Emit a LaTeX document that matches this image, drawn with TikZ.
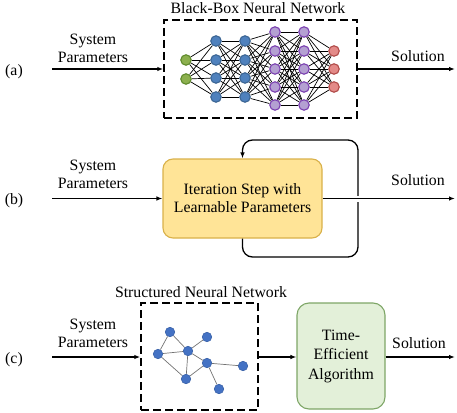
\documentclass[tikz,border=0pt]{standalone}
\usepackage{fontspec}
\setmainfont{Liberation Serif}
\usetikzlibrary{arrows.meta,backgrounds}
\definecolor{yfill}{HTML}{FFE497}
\definecolor{ydraw}{HTML}{D9B14A}
\definecolor{gfill}{HTML}{E3F0D9}
\definecolor{gdraw}{HTML}{7EA667}
\definecolor{nnGf}{HTML}{8CB04E}
\definecolor{nnGd}{HTML}{5F8A2C}
\definecolor{nnBf}{HTML}{4F81BD}
\definecolor{nnBd}{HTML}{3B6593}
\definecolor{nnPf}{HTML}{B4A0D2}
\definecolor{nnPd}{HTML}{7A3FB0}
\definecolor{nnRf}{HTML}{E38A88}
\definecolor{nnRd}{HTML}{B04A48}
\definecolor{gnf}{HTML}{4472C4}
\definecolor{gnd}{HTML}{3A62A8}
\begin{document}
\begin{tikzpicture}[x=1pt,y=-1pt,
  font=\fontsize{15.8}{18}\selectfont,
  arr/.style={line width=1.3pt,-{Latex[length=6pt,width=4.5pt]}},
  dbox/.style={draw,dash pattern=on 8pt off 4pt,line width=1.4pt,inner sep=0pt},
  lbl/.style={align=center,inner sep=0pt},
  nn/.style={circle,minimum size=10.5pt,inner sep=0pt,line width=1.1pt},
  nnG/.style={nn,fill=nnGf,draw=nnGd},
  nnB/.style={nn,fill=nnBf,draw=nnBd},
  nnP/.style={nn,fill=nnPf,draw=nnPd},
  nnR/.style={nn,fill=nnRf,draw=nnRd},
  nnedge/.style={line width=0.7pt,black},
  gnode/.style={circle,minimum size=9.5pt,inner sep=0pt,fill=gnf,draw=gnd,line width=0.6pt},
  gedge/.style={line width=0.7pt,black!55},
  ybox/.style={draw=ydraw,fill=yfill,rounded corners=10pt,line width=1.1pt,inner sep=0pt,align=center},
  gbox/.style={draw=gdraw,fill=gfill,rounded corners=12pt,line width=1.1pt,inner sep=0pt,align=center,font=\fontsize{15.8}{19.5}\selectfont},
]
\useasboundingbox (0,0) rectangle (457,412);

% ---------------- (a) ----------------
\node[lbl] (la) at (14,72) {(a)};
\node[lbl] (spa) at (93,48.5) {System\\Parameters};
\node[lbl] (sola) at (418,56) {Solution};
\node[lbl] (tbb) at (258,8) {Black-Box Neural Network};
\node[dbox,minimum width=193pt,minimum height=98pt] (bb) at (260.5,69) {};
\coordinate (ina) at (52,69);
\coordinate (outa) at (455,69);
\draw[arr] (ina) -- (bb.west);
\draw[arr] (bb.east) -- (outa);

% layers
\foreach \i/\y in {1/60,2/79} \node[nnG] (A\i) at (186,\y) {};
\foreach \i/\y in {1/41,2/60,3/78,4/97} \node[nnB] (B\i) at (216,\y) {};
\foreach \i/\y in {1/41,2/60,3/78,4/97} \node[nnB] (C\i) at (245,\y) {};
\foreach \i/\y in {1/32,2/51,3/69,4/87,5/105} \node[nnP] (D\i) at (275,\y) {};
\foreach \i/\y in {1/32,2/51,3/69,4/87,5/105} \node[nnP] (E\i) at (304,\y) {};
\foreach \i/\y in {1/51,2/69,3/87} \node[nnR] (F\i) at (334,\y) {};
\begin{pgfonlayer}{background}
\foreach \i in {1,2} \foreach \j in {1,...,4} \draw[nnedge] (A\i) -- (B\j);
\foreach \i in {1,...,4} \foreach \j in {1,...,4} \draw[nnedge] (B\i) -- (C\j);
\foreach \i in {1,...,4} \foreach \j in {1,...,5} \draw[nnedge] (C\i) -- (D\j);
\foreach \i in {1,...,5} \foreach \j in {1,...,5} \draw[nnedge] (D\i) -- (E\j);
\foreach \i in {1,...,5} \foreach \j in {1,...,3} \draw[nnedge] (E\i) -- (F\j);
\end{pgfonlayer}

% ---------------- (b) ----------------
\node[lbl] (lb) at (14,201) {(b)};
\node[lbl] (spb) at (93,174) {System\\Parameters};
\node[lbl] (solb) at (418,180) {Solution};
\node[ybox,minimum width=159pt,minimum height=79pt] (it) at (242.5,198.5)
  {Iteration Step with\\Learnable Parameters};
\coordinate (inb) at (52,198.5);
\coordinate (outb) at (455,198.5);
\coordinate (lp1) at (242.5,257);
\coordinate (lp2) at (358,257);
\coordinate (lp3) at (358,140);
\coordinate (lp4) at (242.5,140);
\draw[arr] (inb) -- (it.west);
\draw[arr,rounded corners=10pt] (it.south) -- (lp1) -- (lp2) -- (lp3) -- (lp4) -- (it.north);
\draw[arr,preaction={draw=white,line width=6pt,-}] (it.east) -- (outb);

% ---------------- (c) ----------------
\node[lbl] (lc) at (14,360) {(c)};
\node[lbl] (spc) at (93,333) {System\\Parameters};
\node[lbl] (solc) at (419,343) {Solution};
\node[lbl] (tsn) at (201,292) {Structured Neural Network};
\node[dbox,minimum width=117pt,minimum height=107pt] (sn) at (199.5,356.5) {};
\node[gbox,minimum width=88pt,minimum height=106pt] (te) at (341,356) {Time-\\Efficient\\Algorithm};
\coordinate (inc) at (52,357);
\coordinate (outc) at (455,357);
\draw[arr] (inc) -- (sn.west |- inc);
\draw[arr] (sn.east |- inc) -- (te.west |- inc);
\draw[arr] (te.east |- outc) -- (outc);

\node[gnode] (g1) at (170,332) {};
\node[gnode] (g2) at (207,337) {};
\node[gnode] (g3) at (158,354) {};
\node[gnode] (g4) at (188,351) {};
\node[gnode] (g5) at (207,363) {};
\node[gnode] (g6) at (243,366) {};
\node[gnode] (g7) at (186,379) {};
\node[gnode] (g8) at (219,389) {};
\begin{pgfonlayer}{background}
\draw[gedge] (g1) -- (g3);
\draw[gedge] (g1) -- (g4);
\draw[gedge] (g4) -- (g2);
\draw[gedge] (g3) -- (g4);
\draw[gedge] (g4) -- (g7);
\draw[gedge] (g4) -- (g5);
\draw[gedge] (g3) -- (g7);
\draw[gedge] (g7) -- (g5);
\draw[gedge] (g5) -- (g6);
\draw[gedge] (g5) -- (g8);
\end{pgfonlayer}
\end{tikzpicture}
\end{document}
